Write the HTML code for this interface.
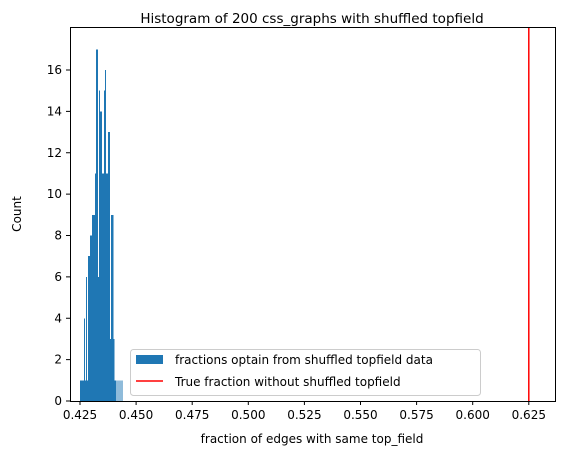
<!DOCTYPE html>
<html><head><meta charset="utf-8"><style>
body{margin:0;background:#fff;}
svg text{font-family:"DejaVu Sans","Liberation Sans",sans-serif;fill:#000;}
</style></head><body>
<svg id="chart" width="563" height="455" xmlns="http://www.w3.org/2000/svg">
<text x="312" y="23" font-size="13.5" text-anchor="middle">Histogram of 200 css_graphs with shuffled topfield</text>
<g id="bars" shape-rendering="crispEdges"></g>
<line id="trueline" y1="27" y2="401" stroke="#ff0000" stroke-width="1.5"/>
<rect x="70.5" y="27.5" width="485" height="374" fill="none" stroke="#000" stroke-width="1"/>
<g id="xticks"></g>
<g id="yticks"></g>
<text x="312" y="443" font-size="12" text-anchor="middle">fraction of edges with same top_field</text>
<text transform="translate(21,214) rotate(-90)" font-size="12" text-anchor="middle">Count</text>
<g>
<rect x="130.5" y="349.5" width="350" height="46" rx="3" fill="#fff" fill-opacity="0.8" stroke="#ccc"/>
<rect x="136" y="355" width="27" height="9" fill="#1f77b4"/>
<text x="175" y="364" font-size="12">fractions optain from shuffled topfield data</text>
<line x1="136" x2="163" y1="381" y2="381" stroke="#ff0000" stroke-width="1.5"/>
<text x="175" y="386" font-size="12">True fraction without shuffled topfield</text>
</g>
</svg>
<script>
const binStart = 0.4251;
const binWidth = 0.000446;
const counts = [1,1,1,1,4,1,6,1,7,7,8,8,9,9,9,11,17,17,6,15,14,14,11,11,15,16,11,11,13,13,3,9,9,3,1,1,0,1,0,1,0,1];
const trueFraction = 0.625;
const xTicks = [0.425,0.45,0.475,0.5,0.525,0.55,0.575,0.6,0.625];
const xTickLabels = ["0.425","0.450","0.475","0.500","0.525","0.550","0.575","0.600","0.625"];
const yTicks = [0,2,4,6,8,10,12,14,16];

const NS = "http://www.w3.org/2000/svg";
function xs(v){ return 80 + (v-0.425)/0.025*56.1; }
function ys(v){ return 401 - v*(331/16); }

const bars = document.getElementById('bars');
counts.forEach((c,i)=>{
  if(c<=0) return;
  const x0 = xs(binStart + i*binWidth), x1 = xs(binStart + (i+1)*binWidth);
  const r = document.createElementNS(NS,'rect');
  r.setAttribute('x', x0); r.setAttribute('width', x1-x0);
  r.setAttribute('y', ys(c)); r.setAttribute('height', ys(0)-ys(c));
  r.setAttribute('fill','#1f77b4');
  
  
  bars.appendChild(r);
});
const tl = document.getElementById('trueline');
tl.setAttribute('x1', xs(trueFraction)); tl.setAttribute('x2', xs(trueFraction));

const xg = document.getElementById('xticks');
xTicks.forEach((v,i)=>{
  const x = xs(v);
  const l = document.createElementNS(NS,'line');
  l.setAttribute('x1',x); l.setAttribute('x2',x); l.setAttribute('y1',401); l.setAttribute('y2',405);
  l.setAttribute('stroke','#000');
  
  
  xg.appendChild(l);
  const t = document.createElementNS(NS,'text');
  t.setAttribute('x',x); t.setAttribute('y',419); t.setAttribute('font-size','12'); t.setAttribute('text-anchor','middle');
  t.textContent = xTickLabels[i];
  
  
  xg.appendChild(t);
});
const yg = document.getElementById('yticks');
yTicks.forEach(v=>{
  const y = ys(v);
  const l = document.createElementNS(NS,'line');
  l.setAttribute('x1',66); l.setAttribute('x2',70); l.setAttribute('y1',y); l.setAttribute('y2',y);
  l.setAttribute('stroke','#000');
  
  
  yg.appendChild(l);
  const t = document.createElementNS(NS,'text');
  t.setAttribute('x',62); t.setAttribute('y',y+4); t.setAttribute('font-size','12'); t.setAttribute('text-anchor','end');
  t.textContent = String(v);
  
  
  yg.appendChild(t);
});
</script>
</body></html>
